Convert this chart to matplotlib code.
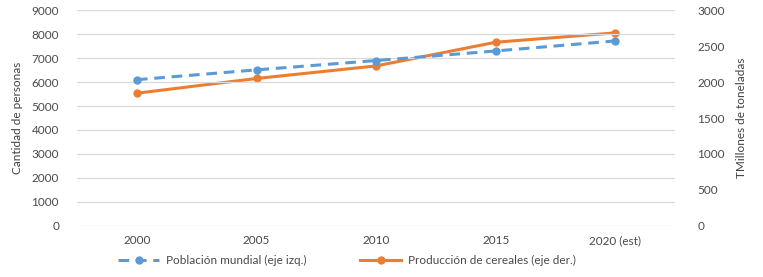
import numpy as np
import matplotlib.pyplot as plt

plt.rcParams['font.family'] = ['Lato', 'DejaVu Sans']

# datos
anios = ['2000', '2005', '2010', '2015', '2020 (est)']
poblacion = [6100, 6510, 6900, 7300, 7720]      # eje izquierdo
cereales = [1845, 2050, 2225, 2555, 2685]        # eje derecho

azul = '#5B9BD5'
naranja = '#ED7D31'
gris = '#4A4A4A'

fig = plt.figure(figsize=(7.63, 2.77), dpi=100)
ax = fig.add_axes([0.101, 0.185, 0.784, 0.778])
ax2 = ax.twinx()

x = np.arange(len(anios))
l1, = ax.plot(x, poblacion, color=azul, lw=2.2, ls=(0, (3.5, 2.2)), marker='o', ms=5,
              label='Población mundial (eje izq.)', zorder=3)
l2, = ax2.plot(x, cereales, color=naranja, lw=2.2, marker='o', ms=5,
               label='Producción de cereales (eje der.)', zorder=3)
ax.set_zorder(ax2.get_zorder() + 1)
ax.patch.set_visible(False)

ax.set_xlim(-0.5, len(anios) - 0.5)
ax.set_ylim(0, 9000)
ax.set_yticks(np.arange(0, 9001, 1000))
ax2.set_ylim(0, 3000)
ax2.set_yticks(np.arange(0, 3001, 500))
ax.set_xticks(x)
ax.set_xticklabels(anios)

ax.grid(axis='y', color='#D9D9D9', lw=0.9)
ax.set_axisbelow(True)
for a in (ax, ax2):
    for s in a.spines.values():
        s.set_visible(False)
    a.tick_params(length=0, labelsize=8.5, colors=gris)
ax.tick_params(axis='y', pad=13)
ax2.tick_params(axis='y', pad=16)
ax.tick_params(axis='x', pad=7)

ax.set_ylabel('Cantidad de personas', fontsize=8.5, color='#404040', labelpad=6)
ax2.set_ylabel('TMillones de toneladas', fontsize=8.5, color='#404040', labelpad=8)

fig.legend(handles=[l1, l2], loc='center', bbox_to_anchor=(0.455, 0.06), ncol=2,
           frameon=False, fontsize=8.5, labelcolor=gris, handlelength=3.5,
           columnspacing=4.5, handletextpad=0.6)

fig.savefig('out.png', dpi=100)
